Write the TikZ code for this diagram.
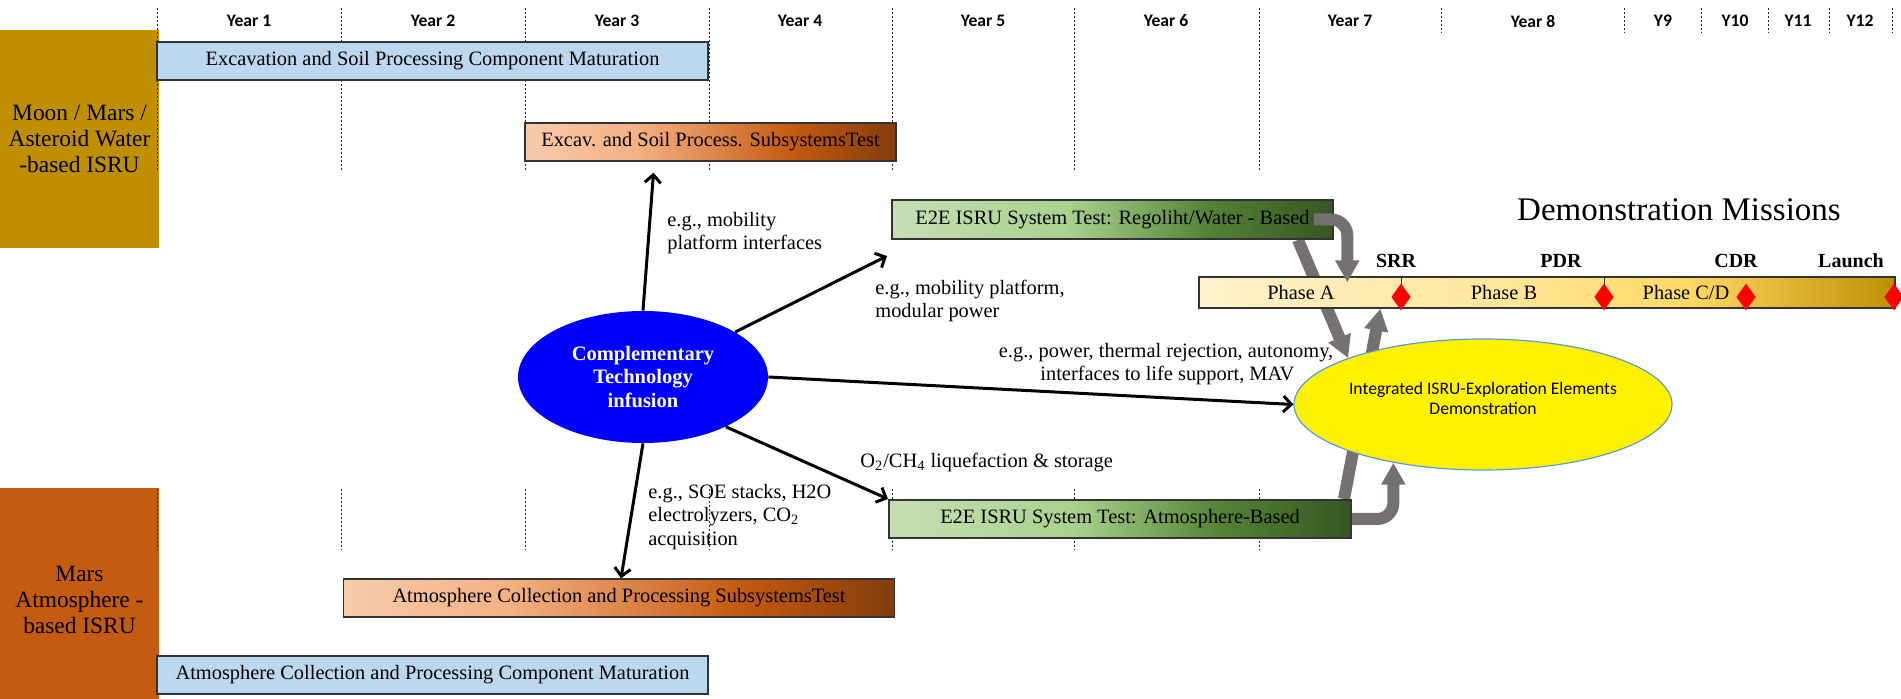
\documentclass[tikz,border=0pt]{standalone}
\usepackage{fontspec}
\setmainfont{Liberation Serif}
\newfontfamily\calibri{Carlito}
\usetikzlibrary{arrows.meta,shapes.geometric}

\definecolor{soilgold}{HTML}{BF8F00}
\definecolor{marsrust}{HTML}{C55A11}
\definecolor{matblue}{HTML}{BDD7EE}
\definecolor{peach}{HTML}{F8CBAD}
\definecolor{peachdark}{HTML}{F4B183}
\definecolor{deepbrown}{HTML}{843C0C}
\definecolor{palegreen}{HTML}{C5E0B4}
\definecolor{midgreen}{HTML}{A9D18E}
\definecolor{leafgreen}{HTML}{548235}
\definecolor{pinegreen}{HTML}{375623}
\definecolor{cream}{HTML}{FFF2CC}
\definecolor{butter}{HTML}{FFE699}
\definecolor{sunny}{HTML}{FFD966}
\definecolor{feedgray}{HTML}{767171}
\definecolor{rimblue}{HTML}{5B9BD5}

\pgfdeclarehorizontalshading{rustbar}{100bp}{color(0bp)=(peach); color(25bp)=(peach); color(40bp)=(peachdark); color(61bp)=(marsrust); color(75bp)=(deepbrown); color(100bp)=(deepbrown)}
\pgfdeclarehorizontalshading{greenbar}{100bp}{color(0bp)=(palegreen); color(25bp)=(palegreen); color(45bp)=(midgreen); color(61bp)=(leafgreen); color(75bp)=(pinegreen); color(100bp)=(pinegreen)}
\pgfdeclarehorizontalshading{phasebar}{100bp}{color(0bp)=(cream); color(25bp)=(cream); color(47bp)=(butter); color(60bp)=(sunny); color(75bp)=(soilgold); color(100bp)=(soilgold)}

\pgfdeclarelayer{back}
\pgfsetlayers{back,main}

\begin{document}
\begin{tikzpicture}[x=0.5pt,y=-0.5pt,
  yearlbl/.style={font=\calibri\bfseries\fontsize{8.8}{10}\selectfont},
  yearline/.style={black!85,line width=0.5pt,dash pattern=on 1.2pt off 0.8pt},
  bar/.style={draw=black!80,line width=0.7pt,minimum height=19pt,inner sep=0pt,font=\fontsize{10.2}{12}\selectfont},
  maturation/.style={bar,fill=matblue},
  subtest/.style={bar,shading=rustbar},
  e2e/.style={bar,shading=greenbar,line width=1pt},
  region/.style={inner sep=0pt,align=center,font=\fontsize{11.7}{13.2}\selectfont},
  note/.style={align=left,anchor=west,inner sep=0pt,font=\fontsize{10.2}{11.6}\selectfont},
  infuse/.style={-{Straight Barb[length=4pt,width=8pt]},line width=1.5pt},
  feed/.style={-{Triangle[length=11pt,width=11.5pt]},feedgray,line width=6pt},
  milestone/.style={diamond,fill=red,minimum width=9.75pt,minimum height=13.5pt,inner sep=0pt},
  gate/.style={font=\bfseries\fontsize{10}{12}\selectfont}]
\useasboundingbox (0,0) rectangle (1901,699);

\node[region,fill=soilgold,minimum width=79.5pt,minimum height=109pt] (moon) at (79.5,139) {Moon / Mars /\\Asteroid Water\\-based ISRU};
\node[fill=marsrust,minimum width=79.5pt,minimum height=105.5pt] (mars) at (79.5,593.5) {};
\node[region] (marstext) at ([yshift=-3.25pt]mars.center) {Mars\\Atmosphere -\\based ISRU};

\foreach \gx in {157.6,341,525,709,892,1074,1259} {
  \draw[yearline] (\gx,8) -- (\gx,170);
  \draw[yearline] (\gx,489) -- (\gx,550);
}
\foreach \gx in {1441,1624.5,1701.5,1768,1829,1892}
  \draw[yearline] (\gx,8) -- (\gx,33);
\foreach \yx/\yt [count=\yi] in {249/Year 1,433/Year 2,617/Year 3,800/Year 4,983/Year 5,1166/Year 6,1350/Year 7,1533/Year 8,1663/Y9,1735/Y10,1798/Y11,1860/Y12}
  \node[yearlbl] (year\yi) at (\yx,21) {\yt};

\node[maturation,minimum width=275.5pt] (excmat) at (432.5,61) {Excavation and Soil Processing Component Maturation};
\node[subtest,minimum width=185.5pt] (excsub) at (710.5,142) {Excav. and Soil Process. SubsystemsTest};
\node[e2e,minimum width=220.5pt,minimum height=19.5pt] (e2ereg) at (1112.5,219.5) {E2E ISRU System Test: Regoliht/Water - Based};
\node[subtest,minimum width=275.5pt] (atmsub) at (619,598) {Atmosphere Collection and Processing SubsystemsTest};
\node[maturation,minimum width=275.5pt] (atmmat) at (432.5,675) {Atmosphere Collection and Processing Component Maturation};
\node[e2e,minimum width=231pt] (e2eatm) at (1120,519) {E2E ISRU System Test: Atmosphere-Based};

\node[bar,shading=phasebar,minimum width=348pt,minimum height=15.5pt] (phase) at (1547,292.5) {};
\draw[black!80,line width=0.7pt] ([xshift=101.5pt]phase.north west) -- ([xshift=101.5pt]phase.south west);
\draw[black!80,line width=0.7pt] ([xshift=203pt]phase.north west) -- ([xshift=203pt]phase.south west);
\node[font=\fontsize{10.2}{12}\selectfont] (phasea) at (1301,293) {Phase A};
\node[font=\fontsize{10.2}{12}\selectfont] (phaseb) at (1504,293) {Phase B};
\node[font=\fontsize{10.2}{12}\selectfont] (phasecd) at (1686,293) {Phase C/D};
\foreach \mx/\mn in {1401/srr,1604/pdr,1746/cdr,1894/launch}
  \node[milestone] (\mn) at (\mx,297) {};
\node[gate] (srrlbl) at (1396,261) {SRR};
\node[gate] (pdrlbl) at (1561,261) {PDR};
\node[gate] (cdrlbl) at (1736,261) {CDR};
\node[gate] (launchlbl) at (1851,261) {Launch};

\node[ellipse,fill=blue,text=white,inner sep=0pt,minimum width=125pt,minimum height=66pt,align=center,font=\bfseries\fontsize{10.25}{11.75}\selectfont] (tech) at (643,377) {Complementary\\Technology\\infusion};
\node[ellipse,fill=yellow,draw=rimblue,line width=0.6pt,inner sep=0pt,minimum width=189pt,minimum height=65.5pt] (demo) at (1483,404.5) {};
\node[align=center,inner sep=0pt,font=\calibri\fontsize{8.8}{10}\selectfont] (demotext) at ([yshift=3pt]demo.center) {Integrated ISRU-Exploration Elements\\Demonstration};
\node[font=\fontsize{16.5}{20}\selectfont] (demotitle) at (1679,210) {Demonstration Missions};

\draw[infuse] (tech.north) -- ([xshift=-28.5pt,yshift=-5.5pt]excsub.south);
\draw[infuse] (tech.26) -- ([xshift=-2pt,yshift=-8pt]e2ereg.south west);
\draw[infuse] (tech.east) -- (demo.west);
\draw[infuse] (tech.-31) -- (e2eatm.north west);
\draw[infuse] (tech.south) -- ([xshift=1pt]atmsub.north);
\node[note] (notea) at (667,233.5) {e.g., mobility\\platform interfaces};
\node[note] (noteb) at (875,301) {e.g., mobility platform,\\modular power};
\node[note] (notec) at (998.5,364) {e.g., power, thermal rejection, autonomy,\\\hspace*{20.75pt}interfaces to life support, MAV};
\node[note] (noted) at (860,463) {O\textsubscript{2}/CH\textsubscript{4} liquefaction \& storage};
\node[note] (notee) at (648,517) {e.g., SOE stacks, H2O\\electrolyzers, CO\textsubscript{2}\\acquisition};

\begin{pgfonlayer}{back}
\draw[feed] ([xshift=-18pt]e2ereg.south east) -- (demo.161);
\draw[feed] ([xshift=-4pt]e2eatm.north east) -- ([xshift=91pt]phase.south west);
\end{pgfonlayer}
\draw[feed,rounded corners=8pt] ([xshift=-10pt]e2ereg.east) -| ([xshift=74.5pt,yshift=-3pt]phase.north west);
\draw[feed,rounded corners=8pt] (e2eatm.east) -| (demo.213);
\end{tikzpicture}
\end{document}
